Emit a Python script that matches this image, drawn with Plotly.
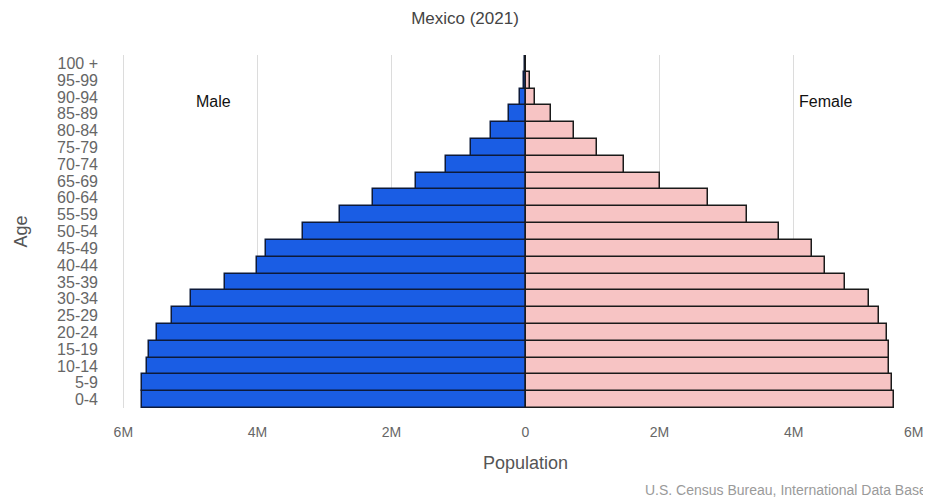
import plotly.graph_objects as go

ages = ["0-4", "5-9", "10-14", "15-19", "20-24", "25-29", "30-34", "35-39",
        "40-44", "45-49", "50-54", "55-59", "60-64", "65-69", "70-74", "75-79",
        "80-84", "85-89", "90-94", "95-99", "100 +"]

# population in millions
male_m = [5.72, 5.72, 5.65, 5.62, 5.50, 5.28, 4.99, 4.49, 4.01, 3.87, 3.32,
          2.77, 2.27, 1.63, 1.18, 0.82, 0.52, 0.24, 0.08, 0.02, 0.004]
female_m = [5.50, 5.47, 5.43, 5.42, 5.40, 5.28, 5.12, 4.76, 4.47, 4.28, 3.78,
            3.30, 2.72, 2.00, 1.47, 1.07, 0.72, 0.38, 0.14, 0.06, 0.01]

tick_vals = [-6, -4, -2, 0, 2, 4, 6]
tick_text = ["6M", "4M", "2M", "0", "2M", "4M", ""]
edge_tick_vals = [6]
edge_tick_text = ["6M"]

male = [-v * 1e6 for v in male_m]
female = [v * 1e6 for v in female_m]

FONT = "Liberation Sans, Arial, Helvetica, sans-serif"
X_RANGE = [-6.02e6, 6.02e6]

fig = go.Figure()
fig.add_trace(go.Bar(
    y=ages, x=male, orientation="h", name="Male",
    marker=dict(color="#1a5de4", line=dict(color="#0d1a3a", width=1.5)),
    hoverinfo="skip",
))
fig.add_trace(go.Bar(
    y=ages, x=female, orientation="h", name="Female",
    marker=dict(color="#f7c4c4", line=dict(color="#1a1a1a", width=1.5)),
    hoverinfo="skip",
))
# empty helper trace so the overlaid edge-label axis gets drawn
fig.add_trace(go.Scatter(x=[None], y=[None], xaxis="x2", yaxis="y",
                         mode="markers", showlegend=False, hoverinfo="skip"))

# page body has an 8px margin: offsets compensate so the plot lands at 122..929 x 55..408
fig.update_layout(
    width=931, height=499,
    margin=dict(l=114, r=10, t=47, b=99),
    paper_bgcolor="white", plot_bgcolor="white",
    barmode="overlay", bargap=0.0,
    showlegend=False,
    font=dict(family=FONT, color="#555555"),
    title=dict(text="Mexico (2021)", x=457 / 931, xanchor="center", y=1 - 10 / 499,
               yanchor="middle", font=dict(size=17, color="#444444", family=FONT)),
    xaxis=dict(
        range=X_RANGE,
        tickvals=[v * 1e6 for v in tick_vals], ticktext=tick_text,
        showgrid=True, gridcolor="#dcdcdc", gridwidth=1,
        zeroline=False, showline=False,
        ticks="", ticklabelstandoff=14,
        tickfont=dict(size=14, color="#666666"),
        title=dict(text="Population", standoff=17,
                   font=dict(size=18, color="#555555")),
        automargin=False, fixedrange=True,
    ),
    xaxis2=dict(
        overlaying="x", anchor="y", side="bottom",
        range=X_RANGE,
        tickvals=[v * 1e6 for v in edge_tick_vals], ticktext=edge_tick_text,
        ticklabelshift=-14, ticklabeloverflow="allow",
        showgrid=False, zeroline=False, showline=False,
        ticks="", ticklabelstandoff=14,
        tickfont=dict(size=14, color="#666666"),
        automargin=False, fixedrange=True,
    ),
    yaxis=dict(
        categoryorder="array", categoryarray=ages,
        tickmode="array", tickvals=ages, ticktext=ages,
        range=[-0.5, len(ages) - 0.5],
        showgrid=False, zeroline=False, showline=False,
        ticks="", ticklabelstandoff=23,
        tickfont=dict(size=16, color="#666666"),
        title=dict(text="Age", standoff=24,
                   font=dict(size=18, color="#555555")),
        automargin=False, fixedrange=True,
    ),
    annotations=[
        dict(text="Male", xref="paper", yref="paper", x=0.114, y=0.867,
             xanchor="center", yanchor="middle",
             showarrow=False, font=dict(size=16, color="#111111", family=FONT)),
        dict(text="Female", xref="paper", yref="paper", x=0.872, y=0.867,
             xanchor="center", yanchor="middle",
             showarrow=False, font=dict(size=16, color="#111111", family=FONT)),
        dict(text="U.S. Census Bureau, International Data Base", xref="paper",
             yref="paper", x=1.0, y=-0.232, xanchor="right", yanchor="middle",
             showarrow=False, font=dict(size=14, color="#9a9a9a", family=FONT)),
    ],
)

fig.write_html("out.html")
